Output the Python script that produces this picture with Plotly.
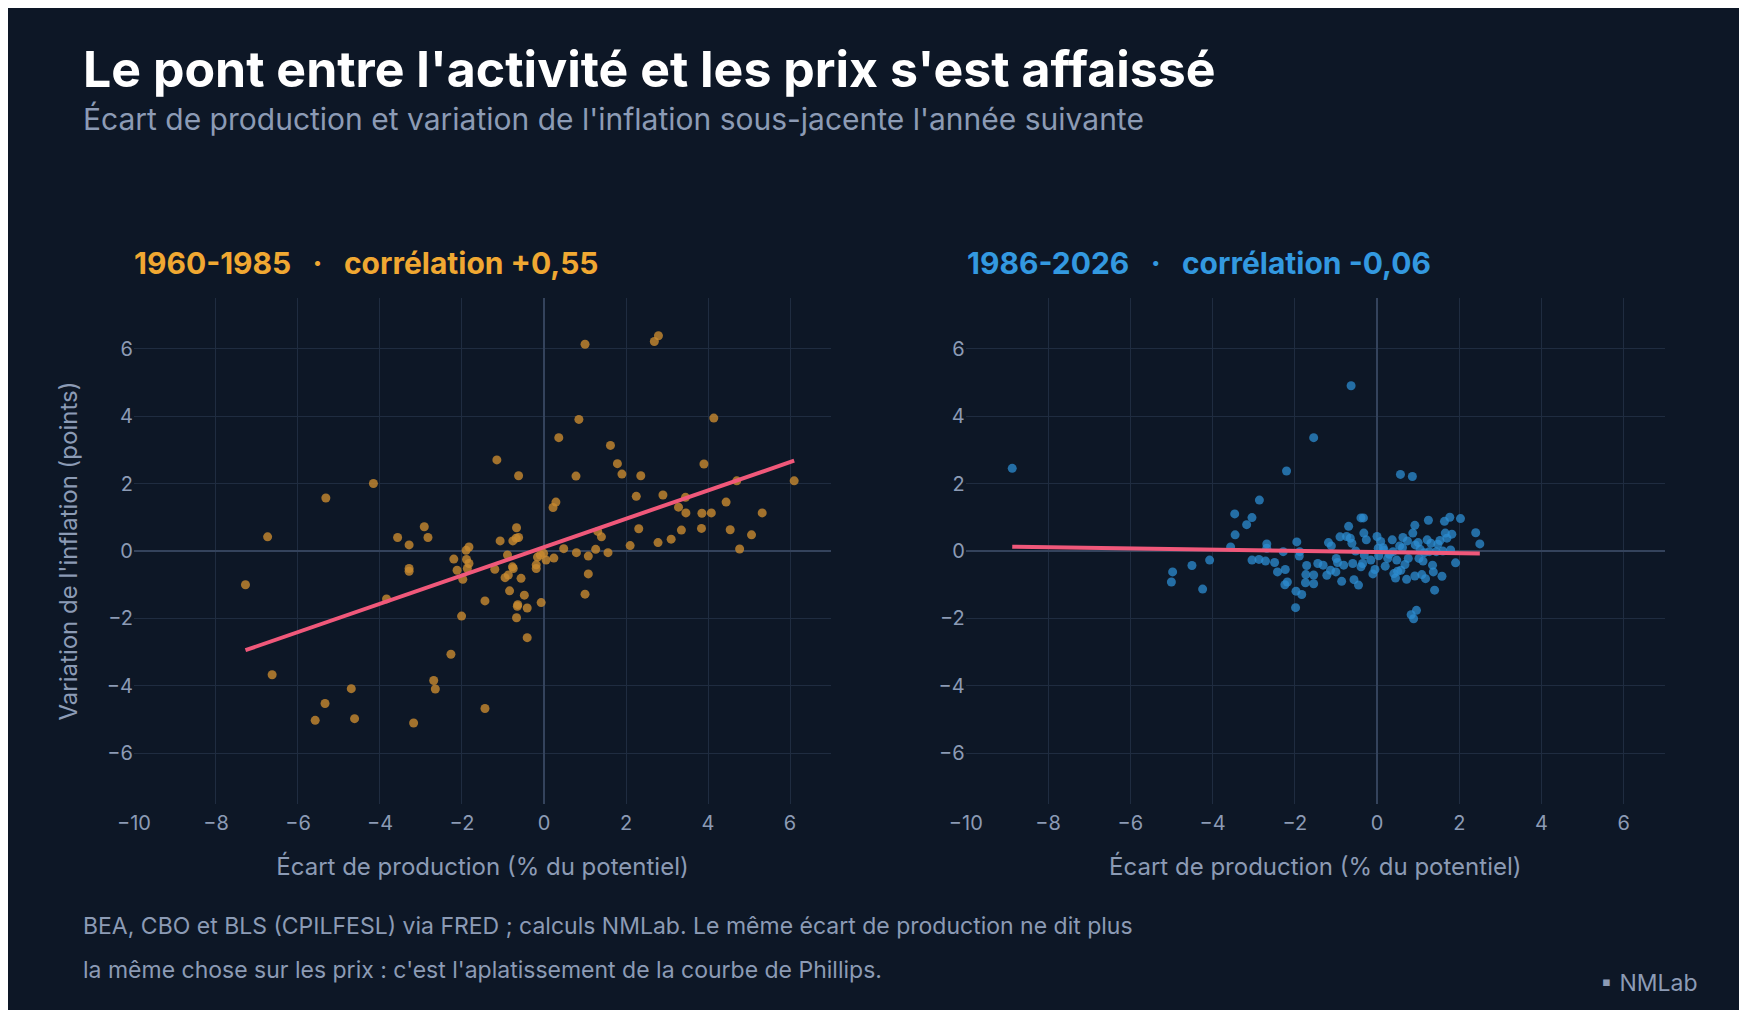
import numpy as np
import plotly.graph_objects as go
from plotly.subplots import make_subplots

left_x = [-7.28,-6.74,-6.63,-5.58,-5.34,-5.32,-4.70,-4.62,-4.16,-3.84,-3.57,-3.29,-3.29,-3.29,-3.18,-2.92,-2.83,-2.69,-2.65,-2.27,
          -2.20,-2.12,-2.01,-1.98,-1.90,-1.83,-1.89,-1.83,-1.87,-1.44,-1.44,-1.20,-1.15,-1.07,-0.95,-0.89,-0.87,-0.84,-0.77,-0.76,
          -0.75,-0.68,-0.67,-0.67,-0.65,-0.64,-0.62,-0.62,-0.56,-0.48,-0.41,-0.41,-0.19,-0.19,-0.16,-0.09,-0.07,-0.01,0.05,0.22,
          0.24,0.29,0.36,0.48,0.78,0.79,0.85,1.00,1.00,1.08,1.08,1.26,1.31,1.40,1.56,1.62,1.79,1.90,2.10,2.25,
          2.31,2.36,2.69,2.79,2.78,2.90,3.10,3.28,3.35,3.45,3.46,3.84,3.85,3.90,4.08,4.14,4.44,4.54,4.70,4.77,5.06,5.32,6.10]
left_y = [-1.00,0.42,-3.67,-5.02,-4.52,1.57,-4.08,-4.97,2.00,-1.42,0.40,0.18,-0.52,-0.60,-5.10,0.72,0.40,-3.84,-4.09,-3.06,
          -0.24,-0.57,-1.93,-0.84,0.02,0.12,-0.25,-0.37,-0.52,-1.48,-4.67,-0.54,2.70,0.30,-0.79,-0.12,-0.71,-1.18,-0.47,0.30,
          -0.52,0.38,0.69,-1.98,-1.64,-1.59,2.23,0.40,-0.81,-1.31,-1.69,-2.57,-0.41,-0.52,-0.18,-0.12,-1.53,-0.07,-0.27,1.29,
          -0.21,1.45,3.36,0.07,2.22,-0.05,3.90,6.13,-1.28,-0.15,-0.68,0.05,0.58,0.42,-0.05,3.13,2.59,2.28,0.16,1.62,
          0.66,2.23,6.21,6.38,0.25,1.66,0.35,1.30,0.62,1.59,1.13,0.67,1.12,2.58,1.13,3.94,1.45,0.63,2.08,0.06,0.48,1.13,2.08]

right_x = [-8.87,-5.00,-4.97,-4.50,-4.24,-4.07,-3.56,-3.45,-3.46,-3.17,-3.04,-2.86,-3.04,-2.87,-2.71,-2.68,-2.68,-2.49,-2.42,-2.28,
           -2.23,-2.20,-2.18,-2.24,-1.97,-1.95,-1.98,-1.83,-1.88,-1.89,-1.71,-1.73,-1.74,-1.54,-1.54,-1.54,-1.44,-1.31,-1.22,-1.18,
           -1.11,-1.13,-1.00,-0.99,-0.96,-0.90,-0.86,-0.81,-0.74,-0.69,-0.65,-0.63,-0.61,-0.59,-0.56,-0.52,-0.45,-0.39,-0.39,-0.33,
           -0.32,-0.31,-0.26,-0.35,-0.10,-0.15,0.00,0.03,0.09,0.04,0.17,0.26,0.37,0.39,0.41,0.45,0.48,0.57,0.58,0.63,
           0.72,0.74,0.76,0.86,0.87,0.92,0.93,0.92,0.89,0.83,0.96,1.02,1.09,1.18,1.25,1.22,1.27,1.31,1.35,1.37,
           1.40,1.44,1.53,1.58,1.64,1.66,1.70,1.77,1.79,1.82,1.91,2.03,2.40,2.50,
           0.15,0.30,0.55,0.68,1.05,1.12,1.48,-0.05,0.20,0.62,1.15,1.60,0.50,1.00]
right_y = [2.45,-0.92,-0.62,-0.43,-1.13,-0.27,0.12,0.48,1.10,0.78,0.99,1.51,-0.27,-0.25,-0.30,0.21,0.08,-0.34,-0.62,-0.02,
           -0.55,2.37,-0.92,-1.00,-1.19,0.27,-1.68,-1.29,-0.02,-0.15,-0.43,-0.70,-0.94,-0.71,-0.97,3.36,-0.37,-0.42,-0.72,0.25,
           0.15,-0.57,-0.62,-0.22,-0.34,0.42,-0.90,-0.42,0.43,0.73,0.38,4.90,0.23,-0.37,-0.85,0.00,-1.01,-0.47,0.98,0.98,
           0.53,-0.12,0.33,-0.37,-0.68,-0.27,0.43,0.08,0.28,-0.14,0.03,-0.22,0.33,-0.02,-0.67,-0.80,-0.27,2.27,-0.57,0.40,
           -0.84,0.30,-0.22,2.21,0.53,0.76,0.18,-0.74,-2.01,-1.89,-1.76,-0.22,-0.70,-0.82,0.91,0.33,-0.02,0.23,-0.42,-0.62,
           -1.16,-0.02,0.31,-0.75,0.88,0.53,0.38,1.00,0.03,0.50,-0.35,0.96,0.54,0.21,
           0.10,-0.10,0.15,-0.40,0.05,-0.30,0.20,-0.55,-0.45,0.10,-0.05,0.00,-0.60,0.25]

BG = "#0d1726"
GRID = "#1f2c40"
ZERO = "#34435c"
TXT = "#8c9bb5"
ORANGE = "#f0a832"
BLUE = "#3399e0"
RED = "#f0587a"

fig = make_subplots(rows=1, cols=2, horizontal_spacing=0.0)

for col, xs, ys, color in [(1, left_x, left_y, "rgba(200,138,48,0.8)"), (2, right_x, right_y, "rgba(44,140,208,0.75)")]:
    xs = np.array(xs); ys = np.array(ys)
    fig.add_trace(go.Scatter(x=xs, y=ys, mode="markers",
                             marker=dict(size=9, color=color, line=dict(width=0)),
                             showlegend=False, hoverinfo="skip"), row=1, col=col)
    a, b = np.polyfit(xs, ys, 1)
    lx = np.array([xs.min(), xs.max()])
    fig.add_trace(go.Scatter(x=lx, y=a * lx + b, mode="lines",
                             line=dict(color=RED, width=4), showlegend=False), row=1, col=col)

axis_common = dict(range=[-10, 7], dtick=2, gridcolor=GRID, zeroline=True, zerolinecolor=ZERO,
                   zerolinewidth=1.5, showline=False, tickfont=dict(size=20, color=TXT), ticks="outside",
                   ticklen=1, tickcolor="rgba(0,0,0,0)")
yaxis_common = dict(range=[-7.5, 7.5], tickvals=[-6, -4, -2, 0, 2, 4, 6], gridcolor=GRID, zeroline=True,
                    zerolinecolor=ZERO, zerolinewidth=1.5, showline=False, tickfont=dict(size=20, color=TXT), ticks="")

xt = dict(text="Écart de production (% du potentiel)", font=dict(size=24, color=TXT), standoff=24)
fig.update_layout(
    width=1747, height=1010, paper_bgcolor=BG, plot_bgcolor=BG,
    font=dict(family="Inter, Roboto, sans-serif", color=TXT),
    margin=dict(l=0, r=0, t=0, b=0),
    xaxis=dict(domain=[110/1747, 814/1747], title=xt, **axis_common),
    xaxis2=dict(domain=[950/1747, 1656/1747], title=xt, **axis_common),
    yaxis=dict(domain=[1 - 796/1010, 1 - 290/1010], title=dict(text="Variation de l'inflation (points)", font=dict(size=24, color=TXT), standoff=22), **yaxis_common),
    yaxis2=dict(domain=[1 - 796/1010, 1 - 290/1010], **yaxis_common),
)

ann = [
    dict(text="<b>Le pont entre l'activité et les prix s'est affaissé</b>", x=57/1747, y=1 - 61/1010,
         font=dict(size=50, color="#ffffff")),
    dict(text="Écart de production et variation de l'inflation sous-jacente l'année suivante", x=57/1747, y=1 - 111/1010,
         font=dict(size=30, color=TXT)),
    dict(text="<b>1960-1985   ·   corrélation +0,55</b>", x=108/1747, y=1 - 255/1010,
         font=dict(size=30, color=ORANGE)),
    dict(text="<b>1986-2026   ·   corrélation -0,06</b>", x=949/1747, y=1 - 255/1010,
         font=dict(size=30, color=BLUE)),
    dict(text="BEA, CBO et BLS (CPILFESL) via FRED ; calculs NMLab. Le même écart de production ne dit plus", x=57/1747, y=1 - 918/1010,
         font=dict(size=23, color=TXT)),
    dict(text="la même chose sur les prix : c'est l'aplatissement de la courbe de Phillips.", x=57/1747, y=1 - 962/1010,
         font=dict(size=23, color=TXT)),
]
for a in ann:
    fig.add_annotation(xref="paper", yref="paper", xanchor="left", yanchor="middle", showarrow=False, **a)
fig.add_annotation(xref="paper", yref="paper", x=1691/1747, y=1 - 975/1010, xanchor="right", yanchor="middle",
                   showarrow=False, text="▪ NMLab", font=dict(size=23, color=TXT))

fig.write_html("out.html")
